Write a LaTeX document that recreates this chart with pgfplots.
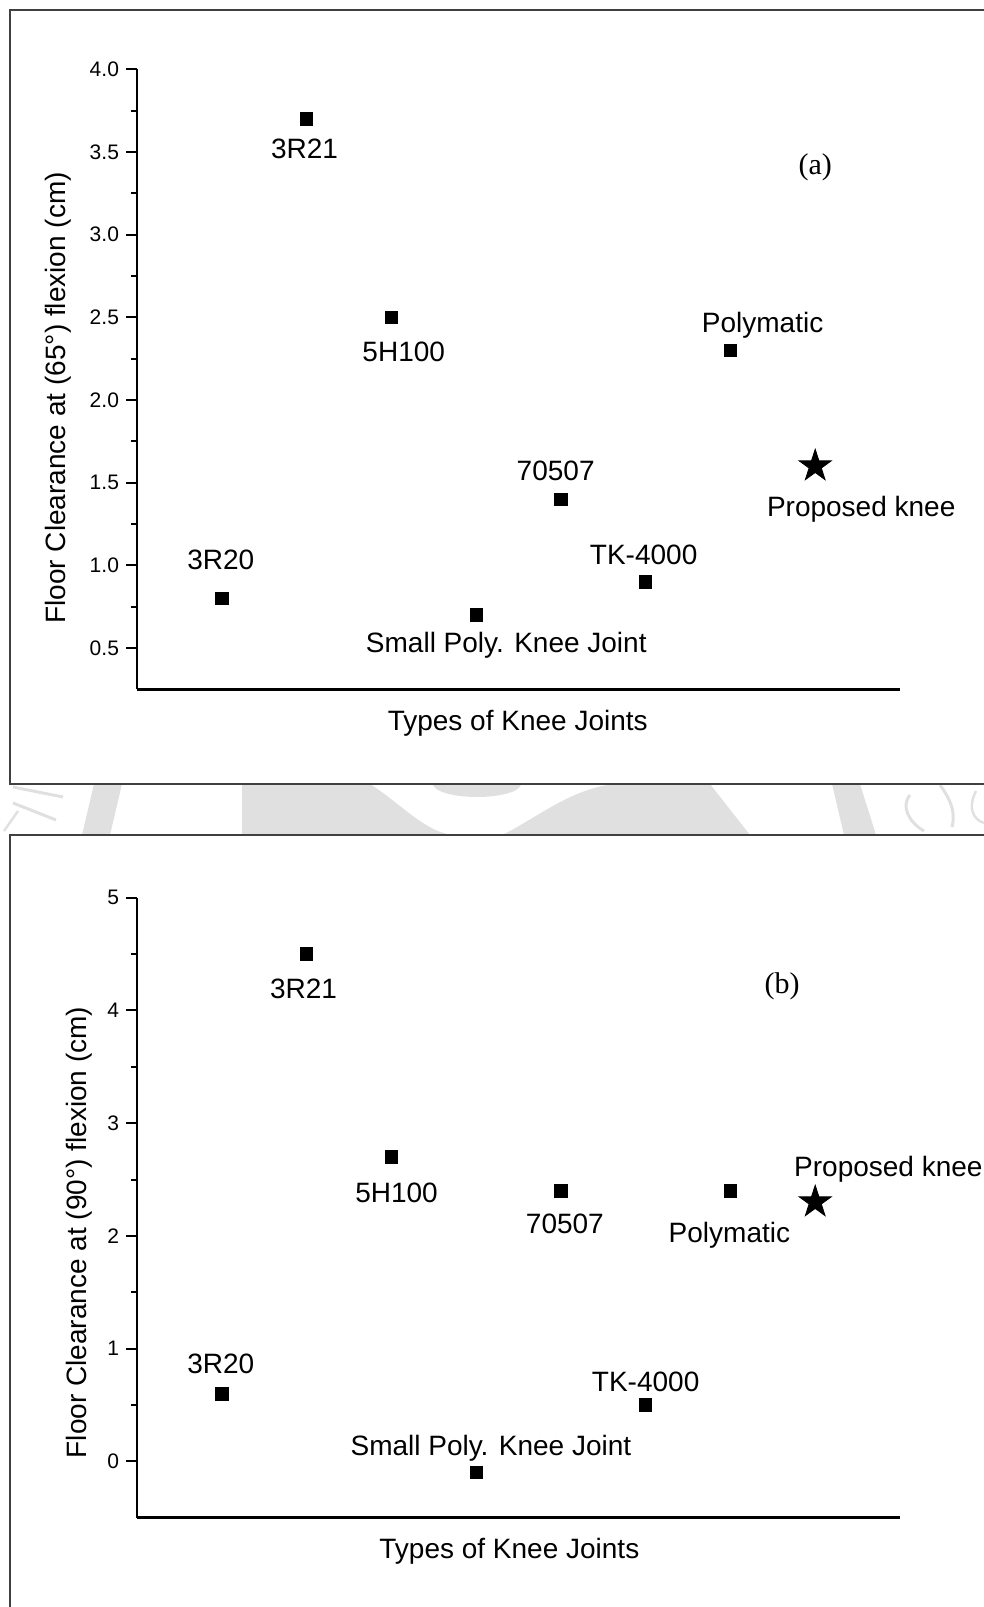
\documentclass[border=0pt]{standalone}
\usepackage{fontspec}
\setmainfont{Liberation Sans}
\newfontfamily\serifA{Liberation Serif}
\usepackage{pgfplots}
\pgfplotsset{compat=1.18}

\pgfdeclareplotmark{fstar}{%
  \pgfpathmoveto{\pgfpointpolar{90}{\pgfplotmarksize}}%
  \pgfpathlineto{\pgfpointpolar{126}{0.382\pgfplotmarksize}}%
  \pgfpathlineto{\pgfpointpolar{162}{\pgfplotmarksize}}%
  \pgfpathlineto{\pgfpointpolar{198}{0.382\pgfplotmarksize}}%
  \pgfpathlineto{\pgfpointpolar{234}{\pgfplotmarksize}}%
  \pgfpathlineto{\pgfpointpolar{270}{0.382\pgfplotmarksize}}%
  \pgfpathlineto{\pgfpointpolar{306}{\pgfplotmarksize}}%
  \pgfpathlineto{\pgfpointpolar{342}{0.382\pgfplotmarksize}}%
  \pgfpathlineto{\pgfpointpolar{18}{\pgfplotmarksize}}%
  \pgfpathlineto{\pgfpointpolar{54}{0.382\pgfplotmarksize}}%
  \pgfpathclose
  \pgfusepathqfillstroke
}

\pgfplotsset{
  kneestyle/.style={
    scale only axis, width=381.5pt, height=310pt,
    anchor=south west, clip=false,
    xmin=0, xmax=9,
    axis x line*=bottom, axis y line*=left,
    axis line style={line width=1.3pt, -},
    every tick/.style={black, line width=1pt},
    tick align=outside,
    major tick length=5.5pt, minor tick length=3pt,
    xtick=\empty, minor xtick={0.5,1,...,8.5},
    /pgf/number format/assume math mode=true,
    yticklabel={\pgfmathprintnumber[assume math mode=true]{\tick}},
    tick label style={font=\fontsize{10.5}{12}\selectfont},
    label style={font=\fontsize{14}{16}\selectfont},
    xlabel={Types of Knee Joints},
  },
}
\tikzset{lab/.style={font=\fontsize{14}{16}\selectfont, anchor=base, inner sep=0pt}}

\begin{document}
\begin{tikzpicture}[x=1pt,y=1pt]
\useasboundingbox (0,0) rectangle (492,803.5);
% faint watermark between the panels
\begin{scope}[black!12]
  \fill (121,411.5) -- (185,411.5) .. controls (200,402) and (212,388) .. (226,386)
        -- (251,386) .. controls (268,394) and (288,411.5) .. (311,411.5)
        -- (355,411.5) -- (375,386) -- (121,386) -- cycle;
  \fill (216.5,411.5) arc (180:360:22 and 6.5) -- cycle;
  \fill (41,386) -- (55,386) -- (61,411.5) -- (47,411.5) -- cycle;
  \fill (416,411.5) -- (430,411.5) -- (438,386) -- (422,386) -- cycle;
  \draw[line width=1.5pt] (6.5,410) -- (31.5,405);
  \draw[line width=1.5pt] (6.5,402) -- (28,393.5);
  \draw[line width=1.2pt] (2,388) -- (9,398);
  \draw[line width=1.5pt] (455,406) .. controls (450,400) and (455,392) .. (462,388);
  \draw[line width=1.5pt] (470,411) .. controls (475,404) and (478,398) .. (476,390);
  \draw[line width=1.2pt] (488,408) .. controls (484,400) and (486,394) .. (492,392);
\end{scope}
% panel frames
\draw[line width=0.9pt, black!75, fill=white] (5,411.5) rectangle (520,798.5);
\draw[line width=0.9pt, black!75, fill=white] (5,-20) rectangle (520,386);

% ---------- panel (a) ----------
\begin{axis}[kneestyle,
  at={(68.5pt,458.85pt)},
  ymin=0.25, ymax=4.0,
  ytick={0.5,1.0,...,4.0}, minor y tick num=1,
  yticklabel style={/pgf/number format/.cd, fixed, fixed zerofill, precision=1},
  ylabel={Floor Clearance at (65°) flexion (cm)},
  ylabel style={at={(axis description cs:-0.103,0.47)}, anchor=center},
  xlabel style={at={(axis description cs:0.499,-0.0555)}, anchor=center},
]
\addplot[only marks, mark=square*, mark size=3.1pt, black] coordinates {
  (1,0.8) (2,3.7) (3,2.5) (4,0.7) (5,1.4) (6,0.9) (7,2.3)};
\addplot[only marks, mark=fstar, mark size=8.4pt, black] coordinates {(8,1.6)};
\node[lab, xshift=-0.5pt, yshift=14.5pt]  at (axis cs:1,0.8) {3R20};
\node[lab, xshift=-1pt,   yshift=-19.9pt] at (axis cs:2,3.7) {3R21};
\node[lab, xshift=6.2pt,  yshift=-21.9pt] at (axis cs:3,2.5) {5H100};
\node[lab, xshift=15.1pt, yshift=-18.8pt] at (axis cs:4,0.7) {Small Poly. Knee Joint};
\node[lab, xshift=-2.6pt, yshift=9.4pt]   at (axis cs:5,1.4) {70507};
\node[lab, xshift=-1pt,   yshift=8.8pt]   at (axis cs:6,0.9) {TK-4000};
\node[lab, xshift=16.1pt, yshift=8.8pt]   at (axis cs:7,2.3) {Polymatic};
\node[lab, xshift=23pt,   yshift=-25pt]   at (axis cs:8,1.6) {Proposed knee};
\node[font=\serifA\fontsize{15}{18}\selectfont, anchor=center] at (axis cs:8.0,3.41) {(a)};
\end{axis}

% ---------- panel (b) ----------
\begin{axis}[kneestyle,
  at={(68.5pt,44.65pt)},
  ymin=-0.5, ymax=5,
  ytick={0,1,...,5}, minor y tick num=1,
  ylabel={Floor Clearance at (90°) flexion (cm)},
  ylabel style={at={(axis description cs:-0.076,0.46)}, anchor=center},
  xlabel style={at={(axis description cs:0.488,-0.0535)}, anchor=center},
]
\addplot[only marks, mark=square*, mark size=3.1pt, black] coordinates {
  (1,0.6) (2,4.5) (3,2.7) (4,-0.1) (5,2.4) (6,0.5) (7,2.4)};
\addplot[only marks, mark=fstar, mark size=8.4pt, black] coordinates {(8,2.3)};
\node[lab, xshift=-0.5pt, yshift=9.9pt]   at (axis cs:1,0.6) {3R20};
\node[lab, xshift=-1.5pt, yshift=-22.4pt] at (axis cs:2,4.5) {3R21};
\node[lab, xshift=2.6pt,  yshift=-22.9pt] at (axis cs:3,2.7) {5H100};
\node[lab, xshift=7.4pt,  yshift=8.8pt]   at (axis cs:4,-0.1) {Small Poly. Knee Joint};
\node[lab, xshift=2pt,    yshift=-21.4pt] at (axis cs:5,2.4) {70507};
\node[lab, xshift=0pt,    yshift=6.8pt]   at (axis cs:6,0.5) {TK-4000};
\node[lab, xshift=-0.5pt, yshift=-26pt]   at (axis cs:7,2.4) {Polymatic};
\node[lab, xshift=36.6pt, yshift=12.9pt]  at (axis cs:8,2.3) {Proposed knee};
\node[font=\serifA\fontsize{15}{18}\selectfont, anchor=center] at (axis cs:7.61,4.21) {(b)};
\end{axis}
\end{tikzpicture}
\end{document}
